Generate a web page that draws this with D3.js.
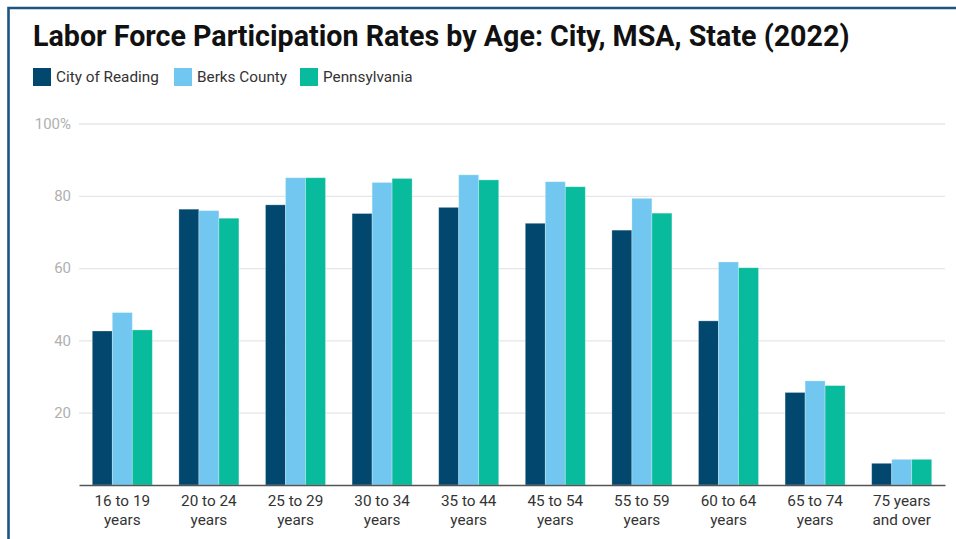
<!DOCTYPE html>
<html><head><meta charset="utf-8">
<script src="https://cdn.jsdelivr.net/npm/d3@7"></script>
<style>
html,body{margin:0;padding:0;background:#fff;}
svg{display:block;font-family:Roboto,"Open Sans",sans-serif;}
</style></head>
<body><svg id="c" width="956" height="539"></svg>
<script>
const categories = [["16 to 19","years"],["20 to 24","years"],["25 to 29","years"],["30 to 34","years"],["35 to 44","years"],["45 to 54","years"],["55 to 59","years"],["60 to 64","years"],["65 to 74","years"],["75 years","and over"]];
const seriesNames = ["City of Reading","Berks County","Pennsylvania"];
const seriesColors = ["#02476e","#72c7f0","#08bb9c"];
const reading = [42.6,76.3,77.5,75.1,76.8,72.4,70.5,45.4,25.6,6.0];
const berks = [47.7,75.9,85.0,83.7,85.8,83.9,79.3,61.7,28.8,7.1];
const penn = [42.9,73.8,85.0,84.8,84.4,82.5,75.2,60.1,27.5,7.1];
const yTicks = [20,40,60,80,100];
const title = "Labor Force Participation Rates by Age: City, MSA, State (2022)";

const series = [reading, berks, penn];
const svg = d3.select("#c");

// frame border
svg.append("path").attr("d","M8.5,539 L8.5,8 L956,8").attr("fill","none")
  .attr("stroke","#1d5580").attr("stroke-width",2.6);

// title
const t = svg.append("text").attr("x",33).attr("y",46).attr("font-size",26).attr("font-weight",700)
  .attr("fill","#111").text(title);
const tw = t.node().getComputedTextLength();
if (tw>0) t.attr("font-size", 26*817/tw);

// legend
const legX = [33,174,300];
seriesNames.forEach((n,i)=>{
  svg.append("rect").attr("x",legX[i]).attr("y",68).attr("width",18).attr("height",18).attr("fill",seriesColors[i]);
  svg.append("text").attr("x",legX[i]+23).attr("y",82).attr("font-size",15.3).attr("fill","#333").text(n);
});

const x0 = d3.scaleBand().domain(d3.range(categories.length)).range([79,945]).paddingInner(0.307).paddingOuter(0.1535);
const x1 = d3.scaleBand().domain(d3.range(series.length)).range([0,x0.bandwidth()]);
const y = d3.scaleLinear().domain([0,100]).range([485,123.5]);

// gridlines
const yAxis = d3.axisLeft(y).tickValues(yTicks).tickSize(-(945-79)).tickFormat(d=>d===100?"100%":d);
const ga = svg.append("g").attr("transform","translate(79,0)").call(yAxis);
ga.select(".domain").remove();
ga.selectAll(".tick line").attr("stroke","#e6e6e6").attr("stroke-width",1.3);
ga.selectAll(".tick text").attr("x",-8).attr("fill","#b0b0b0").attr("font-size",15).attr("font-family","Roboto,sans-serif");

// bars
const g = svg.append("g");
categories.forEach((c,ci)=>{
  series.forEach((s,si)=>{
    g.append("rect").attr("x",x0(ci)+x1(si)).attr("width",x1.bandwidth())
      .attr("y",y(s[ci])).attr("height",y(0)-y(s[ci]))
      .attr("fill",seriesColors[si]).attr("stroke","rgba(255,255,255,0.35)").attr("stroke-width",0.8);
  });
});

// x axis
const xAxis = d3.axisBottom(x0).tickSize(0).tickFormat("");
const gx = svg.append("g").attr("transform","translate(0,485)").call(xAxis);
gx.select(".domain").attr("stroke","#555").attr("stroke-width",1.5);
categories.forEach((c,ci)=>{
  const cx = x0(ci)+x0.bandwidth()/2;
  const tx = svg.append("text").attr("text-anchor","middle").attr("font-size",15.3).attr("fill","#333");
  tx.append("tspan").attr("x",cx).attr("y",506).text(c[0]);
  tx.append("tspan").attr("x",cx).attr("y",524.5).text(c[1]);
});
</script></body></html>
